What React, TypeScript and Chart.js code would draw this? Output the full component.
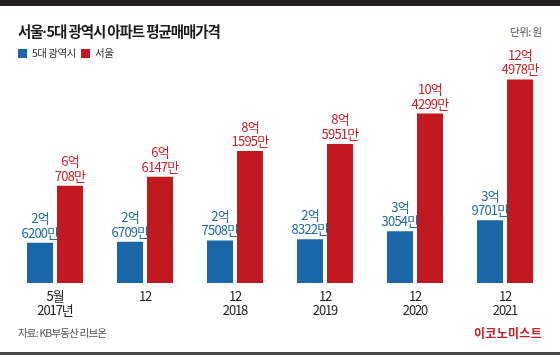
import React, { useEffect, useRef } from "react";
import { Chart, registerables } from "chart.js";

Chart.register(...registerables);

// Data (values in 만원)
const categories: string[][] = [["5월", "2017년"], ["12"], ["12", "2018"], ["12", "2019"], ["12", "2020"], ["12", "2021"]];
const seriesNames: string[] = ["5대 광역시", "서울"];
const metroValues: number[] = [26200, 26709, 27508, 28322, 33054, 39701];
const seoulValues: number[] = [60708, 66147, 81595, 85951, 104299, 124978];
const barColors: string[] = ["#1b66a6", "#c1191f"];
const labelColors: string[] = ["#2069aa", "#cc1f26"];

const FONT = '"Noto Sans CJK KR", "Noto Sans", sans-serif';

const valueLabelPlugin = {
  id: "valueLabels",
  afterDatasetsDraw(chart: any) {
    const ctx = chart.ctx as CanvasRenderingContext2D;
    ctx.save();
    ctx.font = `13px ${FONT}`;
    (ctx as any).letterSpacing = "-0.8px";
    ctx.textAlign = "center";
    ctx.textBaseline = "middle";
    chart.data.datasets.forEach((ds: any, di: number) => {
      const meta = chart.getDatasetMeta(di);
      meta.data.forEach((bar: any, i: number) => {
        const v = ds.data[i] as number;
        const eok = Math.floor(v / 10000);
        const man = v % 10000;
        ctx.fillStyle = labelColors[di];
        ctx.fillText(`${eok}억`, bar.x, bar.y - 24.5);
        ctx.fillText(`${man}만`, bar.x, bar.y - 10);
      });
    });
    ctx.restore();
  },
};

const spacingPlugin = {
  id: "tightText",
  beforeDraw(chart: any) {
    (chart.ctx as any).letterSpacing = "-1.1px";
  },
};

export default function App() {
  const canvasRef = useRef<HTMLCanvasElement | null>(null);

  useEffect(() => {
    document.body.style.margin = "0";
    const canvas = canvasRef.current;
    if (!canvas) return;
    const chart = new Chart(canvas, {
      type: "bar",
      data: {
        labels: categories,
        datasets: [
          { label: seriesNames[0], data: metroValues, backgroundColor: barColors[0], borderWidth: 0 },
          { label: seriesNames[1], data: seoulValues, backgroundColor: barColors[1], borderWidth: 0 },
        ],
      },
      options: {
        animation: false,
        responsive: false,
        maintainAspectRatio: false,
        devicePixelRatio: 1,
        layout: { padding: { left: 10, right: 10, top: 22, bottom: 7 } },
        datasets: { bar: { categoryPercentage: 0.6667, barPercentage: 0.8667 } },
        plugins: {
          legend: { display: false },
          title: { display: false },
          tooltip: { enabled: false },
        },
        scales: {
          x: {
            grid: { display: false, drawTicks: false },
            border: { display: false },
            ticks: {
              color: "#222",
              padding: 5,
              font: { family: FONT, size: 13, lineHeight: 1.15 },
              maxRotation: 0,
              autoSkip: false,
            },
          },
          y: {
            display: false,
            min: 1750,
            max: 135500,
          },
        },
      },
      plugins: [spacingPlugin, valueLabelPlugin],
    });
    return () => chart.destroy();
  }, []);

  const txt = (style: React.CSSProperties): React.CSSProperties => ({
    position: "absolute",
    fontFamily: FONT,
    whiteSpace: "nowrap",
    ...style,
  });

  return (
    <div style={{ position: "relative", width: 560, height: 357, background: "#fff", overflow: "hidden" }}>
      <canvas
        ref={canvasRef}
        width={560}
        height={290}
        style={{ position: "absolute", left: 0, top: 40, width: 560, height: 290 }}
      />
      <div style={{ position: "absolute", left: 0, top: 0, width: 560, height: 6, background: "#231f20" }} />
      <div style={txt({ left: 18, top: 21, fontSize: 14.5, lineHeight: "20px", fontWeight: 700, color: "#1a1a1a", letterSpacing: "-1.1px" })}>
        서울<span style={{ fontFamily: '"Noto Sans", sans-serif', letterSpacing: "0px" }}>·</span>5대 광역시 아파트 평균매매가격
      </div>
      <div style={{ position: "absolute", left: 18, top: 49, width: 9, height: 9, background: barColors[0] }} />
      <div style={txt({ left: 32, top: 45, fontSize: 10.5, lineHeight: "16px", color: "#333", letterSpacing: "-0.5px" })}>
        {seriesNames[0]}
      </div>
      <div style={{ position: "absolute", left: 81, top: 49, width: 9, height: 9, background: barColors[1] }} />
      <div style={txt({ left: 95, top: 45, fontSize: 10.5, lineHeight: "16px", color: "#333", letterSpacing: "-0.5px" })}>
        {seriesNames[1]}
      </div>
      <div style={txt({ left: 510, top: 24, fontSize: 10.5, lineHeight: "16px", color: "#555", letterSpacing: "-0.5px" })}>
        단위: 원
      </div>
      <div style={txt({ left: 18, top: 325, fontSize: 10.5, lineHeight: "16px", color: "#555", letterSpacing: "-0.8px" })}>
        자료: KB부동산 리브온
      </div>
      <div style={txt({ right: 18, top: 324, fontSize: 12, lineHeight: "18px", fontWeight: 700, color: "#c8202a", letterSpacing: "0.3px" })}>
        이코노미스트
      </div>
      <div style={{ position: "absolute", left: 0, top: 352, width: 560, height: 3, background: "#4a4a4a" }} />
    </div>
  );
}
